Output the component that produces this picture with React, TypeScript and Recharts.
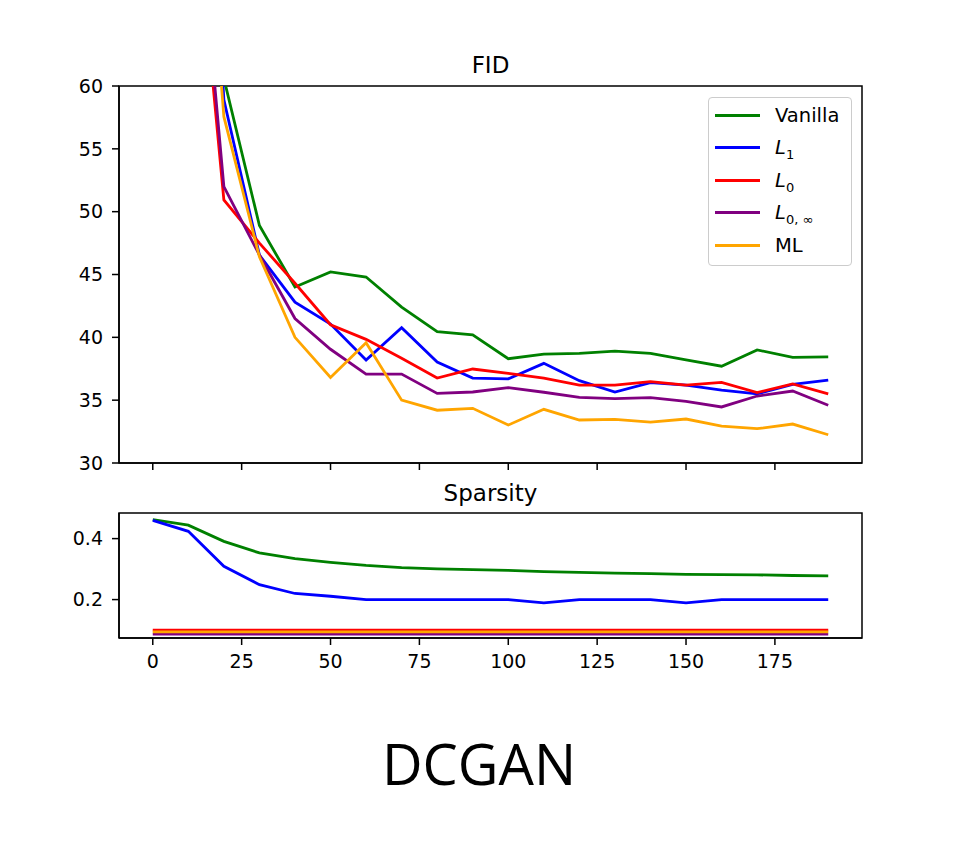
import { LineChart, Line, XAxis, YAxis, Legend, ReferenceArea } from 'recharts';

// epochs on the x axis
const EPOCHS = [0, 10, 20, 30, 40, 50, 60, 70, 80, 90, 100, 110, 120, 130, 140, 150, 160, 170, 180, 190];
const X_TICKS = [0, 25, 50, 75, 100, 125, 150, 175];
const X_DOMAIN = [-9.5, 199.5];

// FID per method (first two points are off the top of the plot)
const VANILLA_FID = [280, 110, 60.6, 48.9, 44.0, 45.2, 44.8, 42.4, 40.45, 40.2, 38.3, 38.67, 38.73, 38.9, 38.73, 38.2, 37.7, 39.0, 38.4, 38.45];
const L1_FID = [270, 109, 58.9, 46.55, 42.8, 41.06, 38.2, 40.77, 38.04, 36.76, 36.7, 37.93, 36.55, 35.65, 36.4, 36.2, 35.8, 35.5, 36.25, 36.6];
const L0_FID = [260, 81, 50.93, 47.5, 44.3, 41.0, 39.84, 38.33, 36.76, 37.48, 37.14, 36.76, 36.2, 36.2, 36.47, 36.2, 36.42, 35.6, 36.3, 35.5];
const L0INF_FID = [265, 83.4, 52.0, 46.55, 41.5, 39.05, 37.08, 37.08, 35.54, 35.65, 36.0, 35.63, 35.23, 35.12, 35.2, 34.9, 34.46, 35.33, 35.73, 34.6];
const ML_FID = [255, 94, 57.56, 46.4, 40.0, 36.8, 39.57, 35.0, 34.2, 34.35, 33.02, 34.27, 33.42, 33.47, 33.26, 33.5, 32.94, 32.73, 33.1, 32.25];
const FID_TICKS = [30, 35, 40, 45, 50, 55, 60];
const FID_DOMAIN = [30, 60];

// sparsity per method
const VANILLA_SP = [0.462, 0.444, 0.391, 0.353, 0.334, 0.322, 0.312, 0.305, 0.301, 0.298, 0.296, 0.292, 0.289, 0.287, 0.285, 0.283, 0.282, 0.281, 0.279, 0.278];
const L1_SP = [0.46, 0.424, 0.309, 0.249, 0.22, 0.211, 0.2, 0.2, 0.2, 0.2, 0.2, 0.189, 0.2, 0.2, 0.2, 0.189, 0.2, 0.2, 0.2, 0.2];
const L0_SP = [0.1, 0.1, 0.1, 0.1, 0.1, 0.1, 0.1, 0.1, 0.1, 0.1, 0.1, 0.1, 0.1, 0.1, 0.1, 0.1, 0.1, 0.1, 0.1, 0.1];
const L0INF_SP = [0.087, 0.087, 0.087, 0.087, 0.087, 0.087, 0.087, 0.087, 0.087, 0.087, 0.087, 0.087, 0.087, 0.087, 0.087, 0.087, 0.087, 0.087, 0.087, 0.087];
const ML_SP = [0.094, 0.094, 0.094, 0.094, 0.094, 0.094, 0.094, 0.094, 0.094, 0.094, 0.094, 0.094, 0.094, 0.094, 0.094, 0.094, 0.094, 0.094, 0.094, 0.094];
const SP_TICKS = [0.2, 0.4];
const SP_DOMAIN = [0.074, 0.484];

const SERIES = [
  { key: 'vanilla', color: '#008000' },
  { key: 'l1', color: '#0000ff' },
  { key: 'l0', color: '#ff0000' },
  { key: 'l0inf', color: '#800080' },
  { key: 'ml', color: '#ffa500' },
];

const fidData = EPOCHS.map((e, i) => ({
  epoch: e,
  vanilla: VANILLA_FID[i],
  l1: L1_FID[i],
  l0: L0_FID[i],
  l0inf: L0INF_FID[i],
  ml: ML_FID[i],
}));

const spData = EPOCHS.map((e, i) => ({
  epoch: e,
  vanilla: VANILLA_SP[i],
  l1: L1_SP[i],
  l0: L0_SP[i],
  l0inf: L0INF_SP[i],
  ml: ML_SP[i],
}));

const FONT = '"DejaVu Sans", sans-serif';
const tickStyle = { fontSize: 19, fill: '#000', fontFamily: FONT };
const axisLine = { stroke: '#000', strokeWidth: 1.5 };

const seriesLabel = (key: string) => {
  const L = <span style={{ fontStyle: 'italic' }}>L</span>;
  const sub = (s: string) => (
    <sub style={{ fontSize: 13, verticalAlign: 'baseline', position: 'relative', top: 5 }}>{s}</sub>
  );
  if (key === 'vanilla') return 'Vanilla';
  if (key === 'l1') return <>{L}{sub('1')}</>;
  if (key === 'l0') return <>{L}{sub('0')}</>;
  if (key === 'l0inf') return <>{L}{sub('0, ∞')}</>;
  return 'ML';
};

const LegendBox = () => (
  <div
    style={{
      position: 'relative',
      width: 144,
      height: 169,
      border: '1.3px solid #cccccc',
      borderRadius: 4,
      background: 'rgba(255,255,255,0.8)',
      boxSizing: 'border-box',
      fontFamily: FONT,
      fontSize: 19.5,
      color: '#000',
    }}
  >
    {SERIES.map((s, i) => (
      <div
        key={s.key}
        style={{
          position: 'absolute',
          left: 6,
          top: 1 + i * 32.6,
          height: 32,
          display: 'flex',
          alignItems: 'center',
          whiteSpace: 'nowrap',
        }}
      >
        <div style={{ width: 45, height: 3, background: s.color, marginRight: 15 }} />
        <span>{seriesLabel(s.key)}</span>
      </div>
    ))}
  </div>
);

const lines = () =>
  SERIES.map((s) => (
    <Line
      key={s.key}
      type="linear"
      dataKey={s.key}
      stroke={s.color}
      strokeWidth={2.8}
      dot={false}
      activeDot={false}
      isAnimationActive={false}
    />
  ));

// plot frame (matplotlib spines) drawn at the domain bounds
const frame = (yDomain: number[]) => (
  <ReferenceArea
    x1={X_DOMAIN[0]}
    x2={X_DOMAIN[1]}
    y1={yDomain[0]}
    y2={yDomain[1]}
    fill="none"
    fillOpacity={0}
    stroke="#000"
    strokeWidth={1.5}
    ifOverflow="visible"
  />
);

const App = () => (
  <div style={{ position: 'absolute', left: 0, top: 0, width: 958, height: 847, background: '#fff' }}>
    <div style={{ position: 'absolute', left: 0, top: 0 }}>
      <LineChart width={958} height={500} data={fidData} margin={{ top: 86, right: 96, left: 0, bottom: 7 }}>
        <XAxis
          dataKey="epoch"
          type="number"
          domain={X_DOMAIN}
          allowDataOverflow
          ticks={X_TICKS}
          tickFormatter={() => ''}
          height={30}
          tickSize={7}
          axisLine={axisLine}
          tickLine={axisLine}
          tick={tickStyle}
        />
        <YAxis
          type="number"
          domain={FID_DOMAIN}
          allowDataOverflow
          ticks={FID_TICKS}
          width={119}
          tickSize={7}
          tickMargin={9}
          axisLine={axisLine}
          tickLine={axisLine}
          tick={tickStyle}
        />
        {frame(FID_DOMAIN)}
        <Legend
          layout="vertical"
          align="center"
          verticalAlign="middle"
          content={() => <LegendBox />}
          wrapperStyle={{ left: 708, top: 97, width: 144, height: 169 }}
        />
        {lines()}
      </LineChart>
    </div>
    <div style={{ position: 'absolute', left: 0, top: 480 }}>
      <LineChart width={958} height={220} data={spData} margin={{ top: 33, right: 96, left: 0, bottom: 0 }}>
        <XAxis
          dataKey="epoch"
          type="number"
          domain={X_DOMAIN}
          allowDataOverflow
          ticks={X_TICKS}
          height={62}
          tickSize={7}
          tickMargin={10}
          axisLine={axisLine}
          tickLine={axisLine}
          tick={tickStyle}
        />
        <YAxis
          type="number"
          domain={SP_DOMAIN}
          allowDataOverflow
          ticks={SP_TICKS}
          tickFormatter={(v: number) => v.toFixed(1)}
          width={119}
          tickSize={7}
          tickMargin={9}
          axisLine={axisLine}
          tickLine={axisLine}
          tick={tickStyle}
        />
        {frame(SP_DOMAIN)}
        {lines()}
      </LineChart>
    </div>
    <svg width={958} height={847} style={{ position: 'absolute', left: 0, top: 0, pointerEvents: 'none' }}>
      <text x={490.5} y={73} textAnchor="middle" fontFamily={FONT} fontSize={23} fill="#000">FID</text>
      <text x={490.5} y={501} textAnchor="middle" fontFamily={FONT} fontSize={23} fill="#000">Sparsity</text>
      <text x={479} y={785} textAnchor="middle" fontFamily='"Open Sans", sans-serif' fontSize={56} fill="#000">DCGAN</text>
    </svg>
  </div>
);

export default App;
